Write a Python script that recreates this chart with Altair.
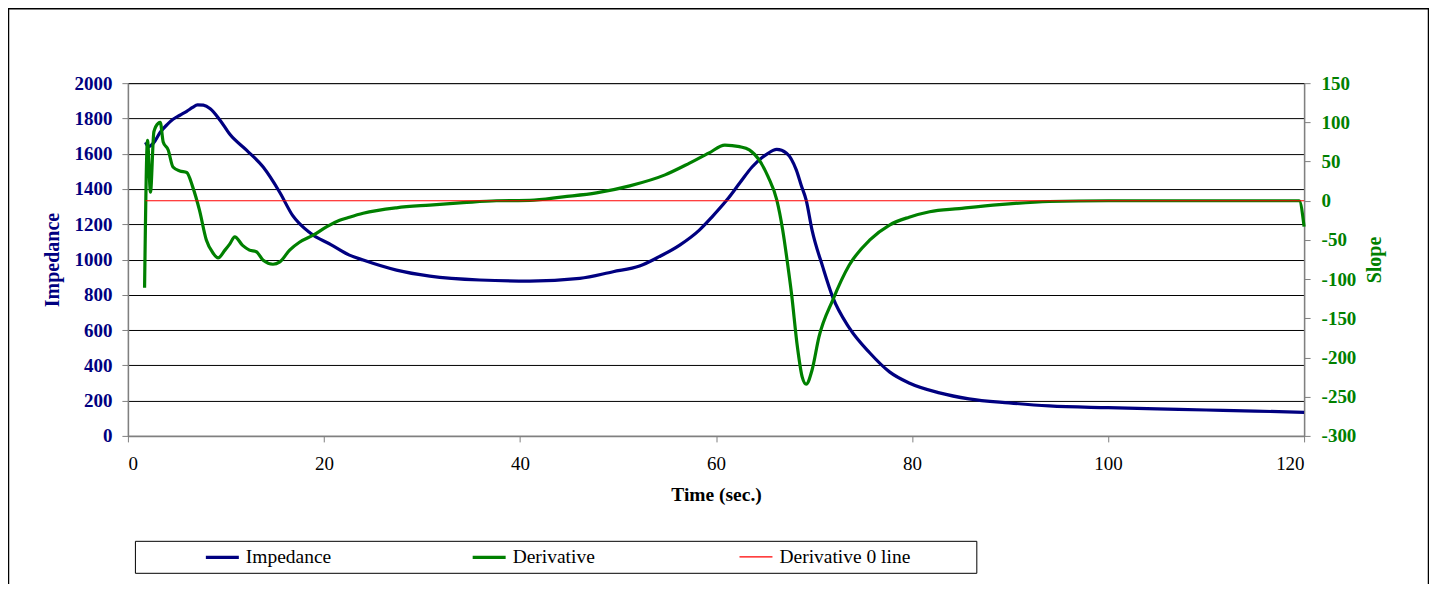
import altair as alt
import pandas as pd

# ---------------- data ----------------
imp_t = [1.8, 2.1, 2.6, 3.3, 4.0, 4.6, 5.3, 6.0, 6.6, 7.1, 7.7, 8.4, 9.4, 10.4,
         12.1, 13.8, 15.5, 16.8, 18.6, 20.7, 22.6, 24, 27.4, 30.8, 35.9, 41,
         46.1, 49.5, 52.2, 54.2, 56.3, 58.3, 59.6, 61.1, 62.4, 63.7, 65.2, 66.2,
         67.2, 68.2, 68.7, 69.2, 69.8, 70.9, 71.9, 73.6, 75.7, 77.7, 79.7, 82.8,
         85.8, 89.9, 94, 100, 105, 110, 115, 120]
imp_v = [1665, 1640, 1660, 1722, 1765, 1795, 1818, 1840, 1862, 1877, 1875, 1855,
         1790, 1710, 1620, 1524, 1380, 1250, 1150, 1085, 1025, 997, 940, 906,
         884, 878, 893, 931, 963, 1016, 1082, 1167, 1242, 1337, 1432, 1526, 1598,
         1624, 1603, 1507, 1420, 1337, 1167, 957, 788, 612, 470, 363, 300, 244,
         210, 187, 170, 160, 153, 147, 141, 133]

der_t = [1.7, 2.0, 2.3, 2.65, 3.1, 3.3, 3.6, 4.1, 4.6, 5.3, 6.0, 6.6, 7.3, 8.0,
         8.7, 9.2, 9.9, 10.4, 10.9, 11.7, 12.4, 13.1, 13.8, 14.8, 15.5, 16.5,
         17.5, 18.9, 20.3, 21.6, 22.6, 24, 27.4, 30.8, 34.2, 37.6, 41, 44.4,
         47.8, 51.2, 54.8, 57.3, 59.3, 60.9, 62.4, 63.4, 64.4, 65.3, 66.2, 66.8,
         67.3, 67.7, 68.3, 68.8, 69.2, 69.8, 70.5, 71.9, 73.6, 75.7, 77.7, 79.7,
         81.8, 84.8, 88.9, 94, 100, 110, 119.5, 120]
der_v = [-111, 77, 11, 88, 99, 100, 75, 65, 43, 38, 36, 18, -12, -50, -67, -73,
         -63, -55, -46, -57, -63, -65, -76, -81, -78, -63, -53, -44, -33, -25,
         -21, -16, -9, -5.5, -2.5, 0, 0.5, 5, 10, 19, 33, 48, 61, 71, 69, 65, 52,
         31, 1, -37, -80, -118, -186, -225, -234, -216, -174, -127, -82, -50,
         -31, -21, -14, -10, -5, -1, 0, 0, 0, -33]

zero_t = [1.8, 120]
zero_v = [0, 0]

series_names = ["Impedance", "Derivative", "Derivative 0 line"]
series_colors = ["#000080", "#008000", "#FF0000"]
series_widths = [3.2, 3.2, 1.2]

x_ticks = [0, 20, 40, 60, 80, 100, 120]
left_ticks = [0, 200, 400, 600, 800, 1000, 1200, 1400, 1600, 1800, 2000]
right_ticks = [-300, -250, -200, -150, -100, -50, 0, 50, 100, 150]

# ---------------- tables ----------------
imp_df = pd.DataFrame({"t": imp_t, "v": imp_v, "series": series_names[0]})
der_df = pd.DataFrame({"t": der_t, "v": der_v, "series": series_names[1]})
zero_df = pd.DataFrame({"t": zero_t, "v": zero_v, "series": series_names[2]})

FONT = "Liberation Serif, Times New Roman, serif"

x_enc = alt.X("t:Q", scale=alt.Scale(domain=[0, 120], nice=False, zero=False),
              axis=alt.Axis(values=x_ticks, title="Time (sec.)", grid=False,
                            labelFont=FONT, titleFont=FONT,
                            labelFontSize=19, labelColor="#000000",
                            labelPadding=13, titleFontSize=19.5,
                            titleFontWeight="bold", titleColor="#000000",
                            titlePadding=12))


def make_legend():
    return alt.Legend(
        title=None, orient="none", legendX=76, legendY=456,
        direction="horizontal", columns=3, gridAlign="all",
        columnPadding=88, symbolType="stroke", symbolSize=1089,
        labelFont=FONT, labelFontSize=19.5, labelColor="#000000",
        labelOffset=5, padding=0,
    )


color_enc = alt.Color(
    "series:N",
    scale=alt.Scale(domain=series_names, range=series_colors),
    legend=make_legend(),
)
width_enc = alt.StrokeWidth(
    "series:N",
    scale=alt.Scale(type="ordinal", domain=series_names, range=series_widths),
    legend=make_legend(),
)

left_y = alt.Y("v:Q", scale=alt.Scale(domain=[0, 2000], nice=False),
               axis=alt.Axis(values=left_ticks, title="Impedance", orient="left",
                             format="d", grid=True, gridColor="#000000",
                             gridWidth=1, labelFont=FONT, titleFont=FONT,
                             labelFontSize=19, labelFontWeight="bold",
                             labelColor="#000080", labelPadding=10,
                             titleFontSize=20, titleFontWeight="bold",
                             titleColor="#000080", titlePadding=11))

right_y = alt.Y("v:Q", scale=alt.Scale(domain=[-300, 150], nice=False, zero=False),
                axis=alt.Axis(values=right_ticks, title="Slope", orient="right",
                              labelExpr="'' + datum.value", grid=False,
                              labelFont=FONT, titleFont=FONT, labelFontSize=19,
                              labelFontWeight="bold", labelColor="#008000",
                              labelPadding=11, titleFontSize=20,
                              titleFontWeight="bold", titleColor="#008000",
                              titleAngle=270, titleBaseline="top",
                              titlePadding=9))

imp_layer = alt.Chart(imp_df).mark_line(
    interpolate="monotone", strokeJoin="round"
).encode(x=x_enc, y=left_y, color=color_enc, strokeWidth=width_enc)

der_line = alt.Chart(der_df).mark_line(
    interpolate="monotone", strokeJoin="round"
).encode(x=x_enc, y=right_y, color=color_enc, strokeWidth=width_enc)

zero_line = alt.Chart(zero_df).mark_line().encode(
    x=x_enc, y=right_y, color=color_enc, strokeWidth=width_enc)

der_layer = alt.layer(der_line, zero_line)

# decorative frames (legend box and outer chart border)
deco_df = pd.DataFrame({"k": [0]})
legend_box = alt.Chart(deco_df).mark_rect(
    fill="transparent", stroke="#000000", strokeWidth=1
).encode(x=alt.value(7.5), x2=alt.value(849.5),
         y=alt.value(458.5), y2=alt.value(490.5))
outer_box = alt.Chart(deco_df).mark_rect(
    fill="transparent", stroke="#000000", strokeWidth=1.5
).encode(x=alt.value(-119.5), x2=alt.value(1301.5),
         y=alt.value(-74.5), y2=alt.value(600))

chart = alt.layer(imp_layer, der_layer, legend_box, outer_box).resolve_scale(
    y="independent"
).properties(
    width=1177, height=353,
    padding={"left": 120, "top": 75, "right": 125, "bottom": 148},
    autosize=alt.AutoSizeParams(type="none"),
    background="#ffffff",
).configure_view(
    stroke="#808080", strokeWidth=1
).configure_axis(
    labelFont=FONT, titleFont=FONT, domainColor="#808080",
    tickColor="#808080", tickSize=6, domainWidth=1.5, tickWidth=1,
)

chart.save("out.html", embed_options={"renderer": "svg", "actions": False})
